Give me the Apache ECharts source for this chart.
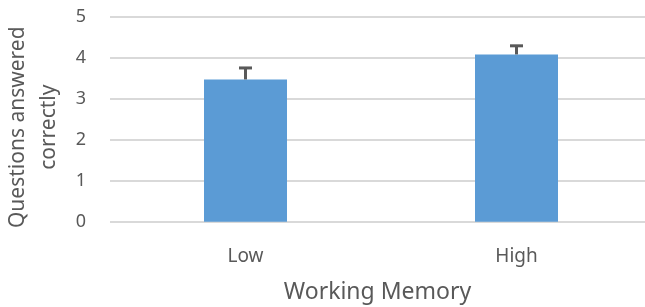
<!DOCTYPE html>
<html>
<head>
<meta charset="utf-8">
<script src="https://cdn.jsdelivr.net/npm/echarts@6/dist/echarts.min.js"></script>
<style>
  html, body { margin: 0; padding: 0; background: #fff; }
  #chart { width: 645px; height: 307px; }
</style>
</head>
<body>
<div id="chart"></div>
<script>
// data
var categories = ['Low', 'High'];
var means = [3.47, 4.08];
var errors = [0.28, 0.21];   // upper error only
var yMin = 0, yMax = 5, yStep = 1;

var textColor = '#595959';
var chart = echarts.init(document.getElementById('chart'));

var option = {
    animation: false,
    textStyle: { fontFamily: 'Noto Sans' },
    grid: {
        left: 110,
        top: 16.7,
        width: 542,
        height: 205,
        outerBoundsMode: 'none'
    },
    xAxis: {
        type: 'category',
        data: categories,
        name: 'Working Memory',
        nameLocation: 'middle',
        nameGap: 59,
        nameTextStyle: { color: textColor, fontSize: 23, padding: [0, 7, 0, 0] },
        axisLine: { show: false },
        axisTick: { show: false },
        axisLabel: { color: textColor, fontSize: 19, margin: 25 }
    },
    yAxis: {
        type: 'value',
        min: yMin,
        max: yMax,
        interval: yStep,
        name: 'Questions answered\ncorrectly',
        nameLocation: 'middle',
        nameGap: 44,
        nameTextStyle: { color: textColor, fontSize: 21, lineHeight: 31, padding: [0, 16, 0, 0] },
        axisLine: { show: false },
        axisTick: { show: false },
        axisLabel: { color: textColor, fontSize: 18, margin: 24 },
        splitLine: { lineStyle: { color: '#D9D9D9', width: 2 } }
    },
    series: [
        {
            type: 'bar',
            data: means,
            barWidth: 83,
            itemStyle: { color: '#5B9BD5' }
        },
        {
            // error bars, drawn on top of the bars
            type: 'custom',
            z: 10,
            data: categories.map(function (c, i) { return [i, means[i], errors[i]]; }),
            renderItem: function (params, api) {
                var x = api.value(0), v = api.value(1), e = api.value(2);
                var base = api.coord([x, v]);
                var top = api.coord([x, v + e]);
                var st = { stroke: '#595959', lineWidth: 3 };
                return {
                    type: 'group',
                    children: [
                        { type: 'line', shape: { x1: base[0], y1: base[1], x2: top[0], y2: top[1] }, style: st },
                        { type: 'line', shape: { x1: top[0] - 6.5, y1: top[1], x2: top[0] + 6.5, y2: top[1] }, style: st }
                    ]
                };
            }
        }
    ]
};
chart.setOption(option);
window.onresize = function () {
    chart.resize();
};
</script>
</body>
</html>
